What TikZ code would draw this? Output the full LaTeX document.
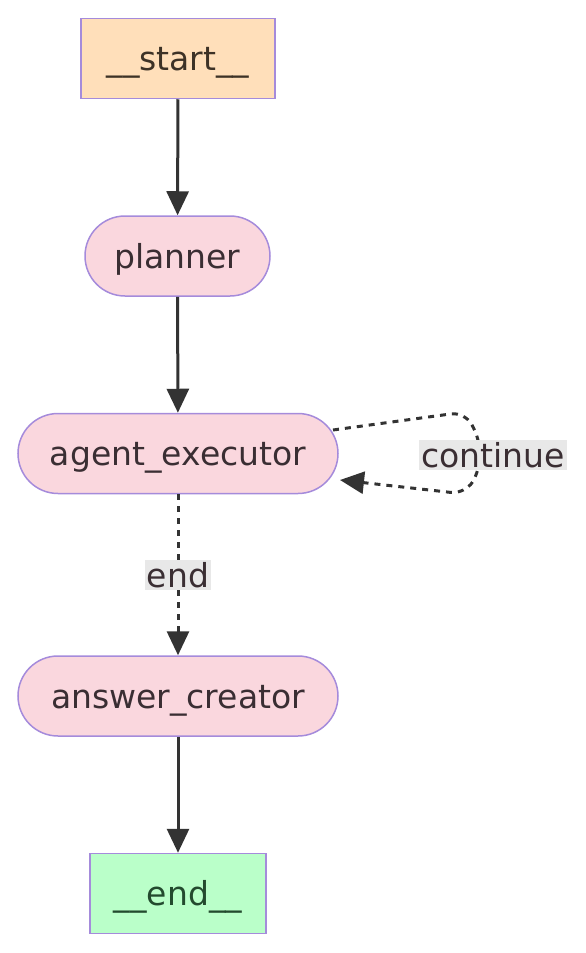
\documentclass[tikz,border=0pt]{standalone}
\usepackage{fontspec}
\setmainfont{DejaVu Sans}
\usetikzlibrary{arrows.meta,calc}
\definecolor{startfill}{HTML}{FFDFBA}
\definecolor{endfill}{HTML}{BAFFC9}
\definecolor{nodefill}{HTML}{FAD7DE}
\definecolor{bordercol}{HTML}{A58BDB}
\definecolor{edgecol}{HTML}{333333}
\definecolor{labelbg}{HTML}{E8E8E8}
\definecolor{starttext}{HTML}{3D3226}
\definecolor{endtext}{HTML}{234A2E}
\definecolor{nodetext}{HTML}{3A2E33}
\begin{document}
\begin{tikzpicture}[x=1pt,y=-1pt,
  base/.style={draw=bordercol, line width=1.5pt, minimum height=80pt, inner sep=0pt,
    text height=30pt, text depth=6pt, font=\fontsize{33}{40}\selectfont},
  termbox/.style={base},
  roundbox/.style={base, rounded corners=40pt, fill=nodefill, text=nodetext},
  edge/.style={draw=edgecol, line width=3pt, -{Triangle[length=24pt,width=22pt]}},
  dottededge/.style={edge, dash pattern=on 6pt off 6pt},
  elabel/.style={fill=labelbg, inner sep=2pt, text=nodetext, font=\fontsize{33}{40}\selectfont}]
\useasboundingbox (0,0) rectangle (586,953);
\node[termbox, fill=startfill, text=starttext, minimum width=194pt] (start) at (178,58.5) {\_\_start\_\_};
\node[roundbox, minimum width=185pt] (planner) at (177.5,256) {planner};
\node[roundbox, minimum width=320pt] (agent) at (178,453.5) {agent\_executor};
\node[roundbox, minimum width=320pt] (answer) at (178,696) {answer\_creator};
\node[termbox, fill=endfill, text=endtext, minimum width=176pt] (end) at (178,893.5) {\_\_end\_\_};
\coordinate (loopout) at (333,430);
\coordinate (loopin) at (340,480);
\draw[edge] (start) -- (planner);
\draw[edge] (planner) -- (agent);
\draw[dottededge] (agent) -- node[elabel] {end} (answer);
\draw[edge] (answer) -- (end);
\draw[dottededge, rounded corners=14pt] (loopout) -- (465,412) -- (480,440) -- (480,470) -- (465,494) -- (loopin);
\node[elabel] (contlabel) at (493,455) {continue};
\end{tikzpicture}
\end{document}
